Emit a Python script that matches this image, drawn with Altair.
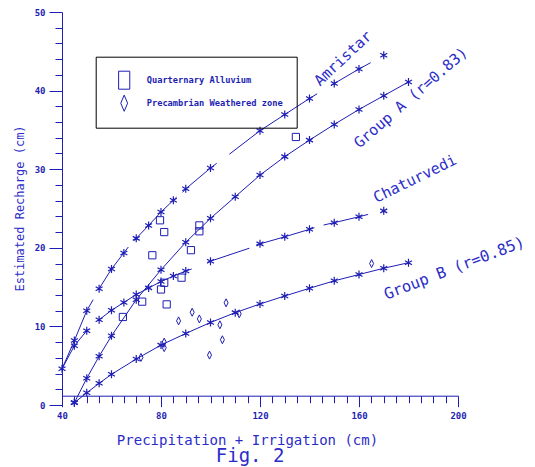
import altair as alt
import pandas as pd

BLUE = "#1e1eb4"
TXT = "#2c2cc8"
MONO = "DejaVu Sans Mono"

# ---- curves: star markers ----
amr_star_x = [40, 45, 50, 55, 60, 65, 70, 75, 80, 85, 90, 100, 120, 130, 140, 150, 160, 170]
amr_star_y = [4.6, 8.2, 12.0, 14.8, 17.3, 19.35, 21.2, 22.85, 24.55, 26.05, 27.5, 30.15, 34.9, 36.95, 39.0, 40.9, 42.75, 44.5]

cha_star_x = [45, 50, 55, 60, 65, 70, 75, 80, 85, 90, 100, 120, 130, 140, 150, 160, 170]
cha_star_y = [7.55, 9.45, 10.85, 12.05, 13.05, 14.05, 14.9, 15.7, 16.4, 17.05, 18.3, 20.5, 21.4, 22.35, 23.2, 23.95, 24.7]

ga_x = [45, 50, 55, 60, 70, 80, 90, 100, 110, 120, 130, 140, 150, 160, 170, 180]
ga_y = [0.3, 3.4, 6.2, 8.8, 13.4, 17.2, 20.7, 23.75, 26.5, 29.25, 31.6, 33.7, 35.7, 37.6, 39.35, 41.1]

gb_x = [45, 50, 55, 60, 70, 80, 90, 100, 110, 120, 130, 140, 150, 160, 170, 180]
gb_y = [0.3, 1.55, 2.76, 3.9, 5.85, 7.62, 9.1, 10.5, 11.75, 12.85, 13.87, 14.85, 15.8, 16.6, 17.4, 18.1]

# ---- curves: broken line pieces ----
amr_line_x = [40, 45, 50, 52.6, 55, 60, 65, 66.8, 69.3, 70, 75, 80, 85, 86.3,
              88.7, 90, 100, 102.5, 107.6, 120, 130, 140, 143.1, 148.7, 150, 160, 164.7]
amr_line_y = [4.6, 8.2, 12.0, 13.4, 14.8, 17.3, 19.35, 20.1, 20.9, 21.2, 22.85, 24.55, 26.05, 26.45,
              27.05, 27.5, 30.15, 30.75, 31.9, 34.9, 36.95, 39.0, 39.6, 40.65, 40.9, 42.75, 43.55]
amr_line_seg = [1, 1, 1, 1, 2, 2, 2, 2, 3, 3, 3, 3, 3, 3,
                4, 4, 4, 4, 5, 5, 5, 5, 5, 6, 6, 6, 6]

cha_line_x = [40, 45, 50, 50.8, 55, 60, 65, 70, 75, 80, 85, 90, 92.4,
              98.7, 100, 115.7, 118.4, 120, 130, 140, 142, 145.7, 150, 160, 163.7]
cha_line_y = [4.6, 7.55, 9.45, 9.7, 10.85, 12.05, 13.05, 14.05, 14.9, 15.7, 16.4, 17.05, 17.3,
              18.15, 18.3, 19.95, 20.35, 20.5, 21.4, 22.35, 22.55, 22.9, 23.2, 23.95, 24.25]
cha_line_seg = [1, 1, 1, 1, 2, 2, 2, 2, 2, 2, 2, 2, 2,
                3, 3, 3, 4, 4, 4, 4, 4, 5, 5, 5, 5]

# ---- observations ----
zones = ["Quarternary Alluvium", "Precambrian Weathered zone"]
qa_x = [79.6, 81.3, 76.5, 95.5, 95.5, 92.1, 80.0, 81.3, 88.3, 72.4, 82.3, 64.6, 134.5]
qa_y = [23.5, 22.0, 19.05, 22.85, 22.1, 19.7, 14.7, 15.55, 16.2, 13.15, 12.8, 11.2, 34.1]
pw_x = [71.9, 81.3, 81.3, 87.1, 92.6, 95.5, 99.6, 103.8, 104.8, 106.3, 111.6, 165.1]
pw_y = [6.05, 8.0, 7.3, 10.7, 11.8, 10.95, 6.35, 10.2, 8.3, 13.0, 11.6, 18.0]

curve_labels = ["Amristar", "Group A (r=0.83)", "Chaturvedi", "Group B (r=0.85)"]

# ---------------------------------------------------------------
stars = pd.concat([
    pd.DataFrame({"curve": "Amristar", "x": amr_star_x, "y": amr_star_y}),
    pd.DataFrame({"curve": "Chaturvedi", "x": cha_star_x, "y": cha_star_y}),
    pd.DataFrame({"curve": "Group A", "x": ga_x, "y": ga_y}),
    pd.DataFrame({"curve": "Group B", "x": gb_x, "y": gb_y}),
], ignore_index=True)

lines = pd.concat([
    pd.DataFrame({"curve": "Amristar", "x": amr_line_x, "y": amr_line_y, "seg": amr_line_seg}),
    pd.DataFrame({"curve": "Chaturvedi", "x": cha_line_x, "y": cha_line_y, "seg": cha_line_seg}),
    pd.DataFrame({"curve": "Group A", "x": ga_x, "y": ga_y, "seg": 1}),
    pd.DataFrame({"curve": "Group B", "x": gb_x, "y": gb_y, "seg": 1}),
], ignore_index=True)
lines["piece"] = lines["curve"] + "-" + lines["seg"].astype(str)
lines["order"] = range(len(lines))

obs = pd.concat([
    pd.DataFrame({"zone": zones[0], "x": qa_x, "y": qa_y}),
    pd.DataFrame({"zone": zones[1], "x": pw_x, "y": pw_y}),
], ignore_index=True)

STAR = "M0,-1L0,1M-0.87,-0.5L0.87,0.5M-0.87,0.5L0.87,-0.5"
SQUARE = "M-1,-1L1,-1L1,1L-1,1Z"
DIAMOND = "M0,-1L0.5,0L0,1L-0.5,0Z"
LEG_RECT = "M-0.62,-1L0.62,-1L0.62,1L-0.62,1Z"
LEG_DIAM = "M0,-0.9L0.38,0L0,0.9L-0.38,0Z"

xaxis = alt.Axis(
    values=list(range(40, 205, 5)),
    tickSize={"condition": {"test": "datum.value % 40 === 0", "value": 11}, "value": 7},
    labelExpr="datum.value % 40 === 0 ? datum.label : ''",
    offset=-9.3, grid=False, labelFlush=False, labelOverlap=False,
    domainColor=BLUE, tickColor=BLUE, labelColor=BLUE,
    labelFont=MONO, labelFontSize=9, labelFontWeight="bold", labelPadding=5,
    title="Precipitation + Irrigation (cm)", titleFont=MONO, titleFontSize=14,
    titleFontWeight="normal", titleColor=TXT, titleX=185, titleY=49,
    titleBaseline="alphabetic", titleAlign="center",
)
yaxis = alt.Axis(
    values=list(range(0, 52, 2)),
    tickSize={"condition": {"test": "datum.value % 10 === 0", "value": 13}, "value": 7},
    labelExpr="datum.value % 10 === 0 ? datum.label : ''",
    grid=False, labelFlush=False, labelOverlap=False,
    domainColor=BLUE, tickColor=BLUE, labelColor=BLUE,
    labelFont=MONO, labelFontSize=9, labelFontWeight="bold", labelPadding=4,
    title="Estimated Recharge (cm)", titleFont=MONO, titleFontSize=12,
    titleFontWeight="normal", titleColor=TXT, titleX=-43, titleY=196,
    titleAngle=270, titleBaseline="middle", titleAlign="center",
)
X = alt.X("x:Q", scale=alt.Scale(domain=[40, 200], nice=False, zero=False), axis=xaxis)
Y = alt.Y("y:Q", scale=alt.Scale(domain=[0, 50], nice=False, zero=False), axis=yaxis)

line_layer = alt.Chart(lines).mark_line(color=BLUE, strokeWidth=1).encode(
    x=X, y=Y, detail="piece:N", order="order:Q")
star_layer = alt.Chart(stars).mark_point(shape=STAR, size=64, filled=False, color=BLUE,
                                         strokeWidth=1.2, opacity=1).encode(x=X, y=Y)
sq_layer = alt.Chart(obs[obs.zone == zones[0]]).mark_point(
    shape=SQUARE, size=52, filled=False, color=BLUE, strokeWidth=1, opacity=1).encode(x=X, y=Y)
di_layer = alt.Chart(obs[obs.zone == zones[1]]).mark_point(
    shape=DIAMOND, size=64, filled=False, color=BLUE, strokeWidth=1, opacity=1).encode(x=X, y=Y)

legend_layer = alt.Chart(obs).mark_point(filled=False, color=BLUE, opacity=0).encode(
    x=X, y=Y,
    shape=alt.Shape("zone:N", scale=alt.Scale(domain=zones, range=[LEG_RECT, LEG_DIAM]),
                    legend=alt.Legend(
                        title=None, orient="none", legendX=33.7, legendY=44.7,
                        padding=14, strokeColor="black", symbolSize=324,
                        symbolStrokeColor=BLUE, symbolStrokeWidth=1, symbolOpacity=1,
                        symbolFillColor="transparent", symbolOffset=5,
                        labelFont=MONO, labelFontSize=8.7, labelFontWeight="bold",
                        labelColor=BLUE, labelOffset=13, rowPadding=1, labelLimit=400)),
)

# annotation texts placed in data coordinates
lab_pos_x = [153.5, 180.9, 182.6, 198.5]
lab_pos_y = [44.1, 39.1, 28.8, 17.4]
lab_angle = [317, 319, 334, 339]
lab_size = [15, 15, 15, 15.5]
text_layers = []
for t, lx, ly, ang, fs in zip(curve_labels, lab_pos_x, lab_pos_y, lab_angle, lab_size):
    text_layers.append(
        alt.Chart(pd.DataFrame({"x": [lx], "y": [ly], "t": [t]})).mark_text(
            font=MONO, fontSize=fs, color=TXT, angle=ang, align="center", baseline="middle"
        ).encode(x=X, y=Y, text="t:N"))

fig_layer = alt.Chart(pd.DataFrame({"x": [116.0], "y": [-7.3], "t": ["Fig. 2"]})).mark_text(
    font=MONO, fontSize=19, color=TXT, align="center", baseline="alphabetic").encode(x=X, y=Y, text="t:N")

chart = alt.layer(line_layer, star_layer, sq_layer, di_layer, legend_layer, *text_layers, fig_layer).properties(
    width=396, height=393,
    autosize=alt.AutoSizeParams(type="none"),
    padding={"left": 54, "top": 4, "right": 69, "bottom": 62},
).configure_view(stroke=None)

chart.save("out.html", embed_options={"renderer": "svg", "actions": False})
